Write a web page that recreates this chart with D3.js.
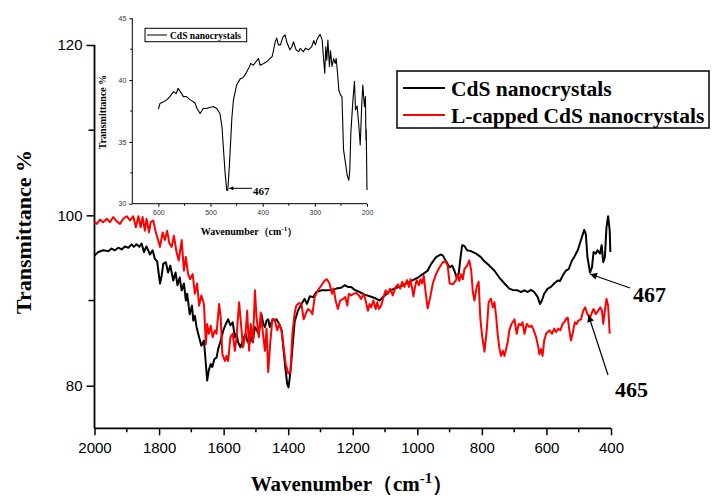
<!DOCTYPE html>
<html><head><meta charset="utf-8">
<script src="https://cdn.jsdelivr.net/npm/d3@7"></script>
<style>body{margin:0;background:#fff}svg{display:block}</style>
</head><body>
<svg id="c" width="712" height="497"></svg>
<script>
// ---- data ----
const xTicks = [2000,1800,1600,1400,1200,1000,800,600,400];
const yTicks = [80,100,120];
const seriesNames = ["CdS nanocrystals","L-capped CdS nanocrystals"];
const wnBlack = [2000,1988,1973,1957,1947,1937,1926,1916,1906,1895,1885,1878,1870,1861,1854,1847,1839,1828,1820,1813,1806,1797,1792,1787,1779,1772,1765,1756,1749,1743,1736,1730,1723,1717,1713,1705,1698,1694,1689,1684,1676,1669,1661,1655,1651,1646,1640,1635,1629,1622,1617,1609,1601,1593,1586,1579,1572,1565,1560,1555,1548,1539,1532,1527,1521,1515,1510,1503,1497,1492,1488,1483,1477,1472,1467,1462,1457,1448,1441,1436,1428,1420,1414,1408,1403,1399,1395,1390,1385,1380,1370,1359,1349,1342,1333,1323,1313,1297,1282,1266,1251,1236,1225,1215,1205,1194,1179,1163,1148,1132,1117,1112,1101,1086,1071,1055,1040,1024,1014,998,983,968,957,942,928,921,911,900,892,885,878,872,866,861,854,846,834,818,803,792,777,761,746,730,715,705,689,679,668,658,648,638,627,620,614,607,596,586,576,565,558,550,540,531,521,514,503,493,483,478,473,465,459,454,447,442,434,429,424,419,414,409,404,402];
const tBlack = [95.3,95.7,95.9,95.8,96.1,95.9,96.2,96.0,96.35,96.2,96.6,96.3,96.6,96.3,96.7,95.7,96.35,95.4,95.9,94.9,94.6,92.0,92.9,94.3,94.5,93.3,94.1,92.35,93.3,91.8,92.7,91.2,92.0,90.0,90.8,88.4,89.4,87.65,88.2,86.9,85.7,84.7,85.3,82.55,80.6,81.8,82.55,82.2,83.1,83.3,84.3,85.3,86.5,87.25,87.8,87.1,87.45,85.7,86.1,85.1,84.5,85.5,86.1,85.3,84.9,85.7,85.1,86.9,86.5,86.1,86.9,88.4,87.25,86.9,87.65,87.8,86.9,87.8,87.65,87.8,87.25,86.5,84.1,81.8,80.2,79.8,81.0,82.9,85.3,87.5,88.8,89.6,90.2,89.6,90.5,90.4,91.0,91.2,91.2,91.25,91.4,91.5,91.8,91.6,91.6,91.25,91.0,90.7,90.5,90.3,90.0,90.2,90.6,91.1,91.4,91.6,91.9,92.2,92.4,92.7,93.1,93.5,94.3,95.1,95.4,95.3,94.6,93.9,94.1,93.5,92.7,93.1,95.1,96.5,96.4,95.9,95.8,95.5,95.1,94.6,94.1,93.5,92.7,92.0,91.4,91.25,91.2,91.0,91.2,91.0,91.25,91.0,90.4,89.6,90.0,90.8,91.4,91.6,92.0,92.35,92.3,92.9,93.5,93.7,94.7,95.1,95.9,97.1,98.3,97.8,95.1,93.3,93.9,95.7,95.5,95.9,95.5,96.5,94.5,95.1,98.6,99.9,98.2,95.7];
const wnRed = [2000,1993,1983,1973,1962,1952,1942,1931,1921,1911,1900,1890,1880,1872,1864,1857,1851,1844,1839,1831,1826,1818,1810,1803,1797,1789,1782,1775,1768,1761,1754,1746,1739,1730,1723,1717,1710,1704,1696,1689,1682,1676,1669,1661,1655,1651,1646,1640,1634,1627,1622,1614,1609,1604,1596,1591,1586,1579,1572,1565,1560,1552,1547,1540,1532,1527,1521,1516,1509,1503,1498,1491,1485,1478,1472,1467,1462,1455,1449,1442,1434,1428,1421,1414,1408,1400,1393,1387,1380,1375,1366,1359,1352,1346,1339,1331,1325,1318,1308,1297,1287,1280,1272,1264,1259,1253,1246,1239,1230,1223,1217,1212,1205,1197,1189,1181,1174,1166,1160,1153,1148,1143,1136,1129,1124,1119,1112,1105,1098,1091,1084,1076,1067,1060,1053,1047,1040,1032,1026,1021,1016,1012,1007,1002,995,990,985,980,975,968,960,952,942,931,921,913,906,900,890,880,875,870,864,859,854,847,839,833,828,823,816,810,805,800,792,785,779,772,766,761,756,751,746,741,735,730,725,720,715,708,699,692,686,679,674,668,661,653,646,639,632,626,622,617,612,607,601,591,583,576,570,563,557,550,545,540,534,529,524,519,512,507,501,493,486,480,473,465,459,454,447,440,433,428,424,419,414,409,404];
const tRed = [99.2,99.0,99.5,99.2,99.6,99.2,99.8,99.3,99.0,99.6,99.9,99.4,99.9,98.6,99.9,98.6,99.8,98.2,99.6,98.0,99.2,99.4,98.0,97.1,96.3,98.0,97.1,98.2,96.7,96.3,97.6,95.7,94.7,97.1,93.5,95.1,93.1,92.5,93.1,90.8,92.0,89.4,90.6,89.6,84.9,87.25,86.1,87.05,85.7,86.5,86.1,89.6,88.0,83.7,82.9,83.5,82.9,85.7,86.1,84.1,85.7,89.8,87.65,84.5,86.1,88.8,84.1,87.25,85.1,91.2,88.0,85.7,88.6,86.1,84.1,86.7,81.6,85.3,87.8,87.8,86.5,87.25,86.5,84.5,82.6,81.45,81.6,86.1,88.5,89.4,89.7,89.6,87.8,88.4,89.0,88.8,88.4,90.4,91.2,91.8,92.35,92.5,92.0,90.8,91.4,90.0,89.0,90.0,90.2,90.4,89.4,90.8,90.6,90.8,90.9,90.6,90.2,90.8,90.0,88.8,89.6,89.2,90.0,89.0,89.8,89.0,89.4,90.4,91.2,90.8,91.4,90.6,91.6,91.9,91.4,92.2,91.6,92.4,91.6,92.5,91.4,90.5,91.6,92.4,91.8,92.5,92.0,92.9,91.2,89.1,90.4,92.0,93.1,93.9,94.5,94.6,94.1,92.0,91.9,92.4,93.1,92.3,93.1,92.5,93.7,94.0,94.7,93.5,91.0,90.0,91.6,92.2,88.0,86.1,84.0,86.5,89.8,90.2,89.2,89.8,88.2,86.0,84.5,83.5,84.1,83.5,84.3,85.1,86.5,87.25,87.8,86.1,87.25,87.1,87.45,86.1,87.25,86.9,87.05,86.5,85.7,84.7,83.7,84.3,83.5,85.3,86.1,86.5,86.1,86.7,86.3,86.7,86.5,87.25,87.45,87.8,88.0,86.5,85.3,86.1,87.45,87.25,87.65,87.8,88.8,89.2,88.4,88.0,88.6,89.0,88.4,88.8,89.2,88.8,87.25,88.8,90.2,89.4,86.1];
// inset (far-IR) data
const insetXTicks = [600,500,400,300,200];
const insetYTicks = [30,35,40,45];
const wnInset = [600,597,590,584,578,571,566,562,558,552,546,539,530,526,520,514,507,501,494,488,482,478,475,472,469,467,464,459,456,450,443,438,434,427,423,418,411,408,405,398,392,386,382,379,376,373,370,366,361,357,354,348,344,341,336,331,328,322,318,312,306,302,299,296,293,290,286,283,281,279,277,275,272,270,267,264,261,259,256,254,251,248,245,242,238,235,233,231,227,224,222,219,216,213,210,208,205,203,202,201.5,200];
const tInset = [37.66,38.1,38.25,38.4,38.66,39.07,38.9,39.34,39.07,38.66,38.66,38.4,38.17,37.7,37.3,37.7,37.7,37.8,37.85,37.7,37.3,36.2,34.3,32.45,31.1,31.1,33.0,37.0,38.4,39.6,40.1,40.2,40.4,40.95,41.35,41.2,41.6,41.75,41.2,41.35,41.5,41.75,41.9,42.45,43.1,43.4,42.85,42.85,43.5,43.65,43.1,42.45,42.7,43.1,42.45,42.3,42.57,42.3,42.57,42.45,42.7,43.2,42.85,43.25,43.5,43.7,43.25,41.6,40.55,42.7,41.6,43.25,41.1,42.4,41.1,41.75,41.35,41.75,40.3,39.2,38.8,38.66,34.35,33.5,32.3,31.9,32.7,35.7,38.4,39.9,37.6,37.9,36.5,34.75,38.1,39.6,37.85,38.66,35.15,36.0,31.1];
const peakMain = ["467","465"];
const peakInset = "467";

// ---- drawing ----
const svg = d3.select("#c");
const serif = "'Times New Roman','Liberation Serif',serif";
const sans = "Arial,'Liberation Sans',sans-serif";

const x = d3.scaleLinear().domain([2000,400]).range([94.5,611]);
const y = d3.scaleLinear().domain([75,120]).range([428.3,45]);

// x axis
const gx = svg.append("g").attr("transform","translate(0,428.3)");
gx.call(d3.axisBottom(x).tickValues(xTicks).tickSize(7).tickSizeOuter(0).tickPadding(7).tickFormat(d3.format("d")));
gx.append("g").selectAll("line").data(d3.range(1900,400,-200)).join("line")
  .attr("x1",d=>x(d)).attr("x2",d=>x(d)).attr("y1",0).attr("y2",4).attr("stroke","#000").attr("stroke-width",1.5);
// y axis
const gy = svg.append("g").attr("transform","translate(94.5,0)");
gy.call(d3.axisLeft(y).tickValues(yTicks).tickSize(8).tickSizeOuter(0).tickPadding(4));
gy.append("g").selectAll("line").data([90,110]).join("line")
  .attr("y1",d=>y(d)).attr("y2",d=>y(d)).attr("x1",0).attr("x2",-6).attr("stroke","#000").attr("stroke-width",1.5);
[gx,gy].forEach(g=>{
  g.select(".domain").attr("stroke","#000").attr("stroke-width",1.8);
  g.selectAll(".tick line").attr("stroke-width",1.5);
  g.selectAll("text").attr("font-family",sans).attr("font-size",15).attr("fill","#000");
});
gy.select(".domain").attr("d",`M0,${y(120)}V${y(75)}`);
gx.select(".domain").attr("d",`M${x(2000)},0H${x(400)}`);

// titles
const xt = svg.append("text").attr("x",352).attr("y",491).attr("text-anchor","middle")
  .attr("font-family",serif).attr("font-weight","bold").attr("font-size",21);
xt.append("tspan").text("Wavenumber（cm");
xt.append("tspan").attr("dy",-8).attr("font-size",15).text("-1");
xt.append("tspan").attr("dy",8).text("）");
svg.append("text").attr("transform","translate(31,232) rotate(-90)").attr("text-anchor","middle")
  .attr("font-family",serif).attr("font-weight","bold").attr("font-size",22).text("Transmittance %");

// lines
const line = d3.line().x(d=>x(d[0])).y(d=>y(d[1]));
svg.append("path").datum(d3.zip(wnBlack,tBlack)).attr("d",line).attr("fill","none").attr("stroke","#000").attr("stroke-width",2).attr("stroke-linejoin","round");
svg.append("path").datum(d3.zip(wnRed,tRed)).attr("d",line).attr("fill","none").attr("stroke","#ff0000").attr("stroke-width",2).attr("stroke-linejoin","round");

// arrow markers
const defs = svg.append("defs");
defs.append("marker").attr("id","ah").attr("viewBox","0 0 10 10").attr("refX",10).attr("refY",5)
  .attr("markerWidth",9).attr("markerHeight",7).attr("markerUnits","userSpaceOnUse").attr("orient","auto")
  .append("path").attr("d","M0,0L10,5L0,10z").attr("fill","#000");
defs.append("marker").attr("id","ahs").attr("viewBox","0 0 10 10").attr("refX",10).attr("refY",5)
  .attr("markerWidth",6).attr("markerHeight",4).attr("markerUnits","userSpaceOnUse").attr("orient","auto")
  .append("path").attr("d","M0,0L10,5L0,10z").attr("fill","#000");

// main annotations
svg.append("line").attr("x1",630).attr("y1",288).attr("x2",x(465)).attr("y2",274).attr("stroke","#000").attr("stroke-width",1.2).attr("marker-end","url(#ah)");
svg.append("text").attr("x",633).attr("y",302).attr("font-family",serif).attr("font-weight","bold").attr("font-size",22).text(peakMain[0]);
svg.append("line").attr("x1",608).attr("y1",375).attr("x2",x(470)).attr("y2",y(88.3)).attr("stroke","#000").attr("stroke-width",1.2).attr("marker-end","url(#ah)");
svg.append("text").attr("x",615).attr("y",397).attr("font-family",serif).attr("font-weight","bold").attr("font-size",22).text(peakMain[1]);

// main legend
const lg = svg.append("g");
lg.append("rect").attr("x",397).attr("y",71).attr("width",312).attr("height",57).attr("fill","#fff").attr("stroke","#000").attr("stroke-width",1.5);
const lcols = ["#000","#ff0000"], lys = [88,115];
seriesNames.forEach((n,i)=>{
  lg.append("line").attr("x1",403).attr("x2",445).attr("y1",lys[i]).attr("y2",lys[i]).attr("stroke",lcols[i]).attr("stroke-width",2);
  lg.append("text").attr("x",451).attr("y",lys[i]+7.5).attr("font-family",serif).attr("font-weight","bold").attr("font-size",21.5).text(n);
});

// ---- inset ----
const ix = d3.scaleLinear().domain([650,200]).range([132.3,367]);
const iy = d3.scaleLinear().domain([30,45]).range([203.7,18.3]);
const ig = svg.append("g");
const igx = ig.append("g").attr("transform","translate(0,203.7)");
igx.call(d3.axisBottom(ix).tickValues(insetXTicks).tickSize(3).tickSizeOuter(0).tickPadding(3));
igx.append("g").selectAll("line").data([550,450,350,250]).join("line")
  .attr("x1",d=>ix(d)).attr("x2",d=>ix(d)).attr("y1",0).attr("y2",2).attr("stroke","#000");
const igy = ig.append("g").attr("transform","translate(132.3,0)");
igy.call(d3.axisLeft(iy).tickValues(insetYTicks).tickSize(3).tickSizeOuter(0).tickPadding(3));
igy.append("g").selectAll("line").data([32.5,37.5,42.5]).join("line")
  .attr("y1",d=>iy(d)).attr("y2",d=>iy(d)).attr("x1",0).attr("x2",-2).attr("stroke","#000");
[igx,igy].forEach(g=>{
  g.selectAll("text").attr("font-family",sans).attr("font-size",7).attr("fill","#333");
  g.select(".domain").attr("stroke-width",1);
});
igy.select(".domain").attr("d",`M0,${iy(45)}V${iy(30)}`);
igx.select(".domain").attr("d",`M${ix(650)},0H${ix(200)}`);
const iline = d3.line().x(d=>ix(d[0])).y(d=>iy(d[1]));
ig.append("path").datum(d3.zip(wnInset,tInset)).attr("d",iline).attr("fill","none").attr("stroke","#000").attr("stroke-width",1.1).attr("stroke-linejoin","round");
// inset titles
const ixt = ig.append("text").attr("x",249).attr("y",235).attr("text-anchor","middle")
  .attr("font-family",serif).attr("font-weight","bold").attr("font-size",10);
ixt.append("tspan").text("Wavenumber（cm");
ixt.append("tspan").attr("dy",-4).attr("font-size",7).text("-1");
ixt.append("tspan").attr("dy",4).text("）");
ig.append("text").attr("transform","translate(106,112) rotate(-90)").attr("text-anchor","middle")
  .attr("font-family",serif).attr("font-weight","bold").attr("font-size",10).text("Transmittance %");
// inset legend
ig.append("rect").attr("x",145).attr("y",28.3).attr("width",101.7).attr("height",13.4).attr("fill","#fff").attr("stroke","#000").attr("stroke-width",1);
ig.append("line").attr("x1",147).attr("x2",167).attr("y1",35).attr("y2",35).attr("stroke","#000").attr("stroke-width",1);
ig.append("text").attr("x",170).attr("y",38.5).attr("font-family",serif).attr("font-weight","bold").attr("font-size",9.5).text(seriesNames[0]);
// inset annotation
ig.append("line").attr("x1",252).attr("y1",188.3).attr("x2",ix(464)).attr("y2",188.3).attr("stroke","#000").attr("stroke-width",1).attr("marker-end","url(#ahs)");
ig.append("text").attr("x",253).attr("y",194.5).attr("font-family",serif).attr("font-weight","bold").attr("font-size",11).text(peakInset);
</script>
</body></html>
